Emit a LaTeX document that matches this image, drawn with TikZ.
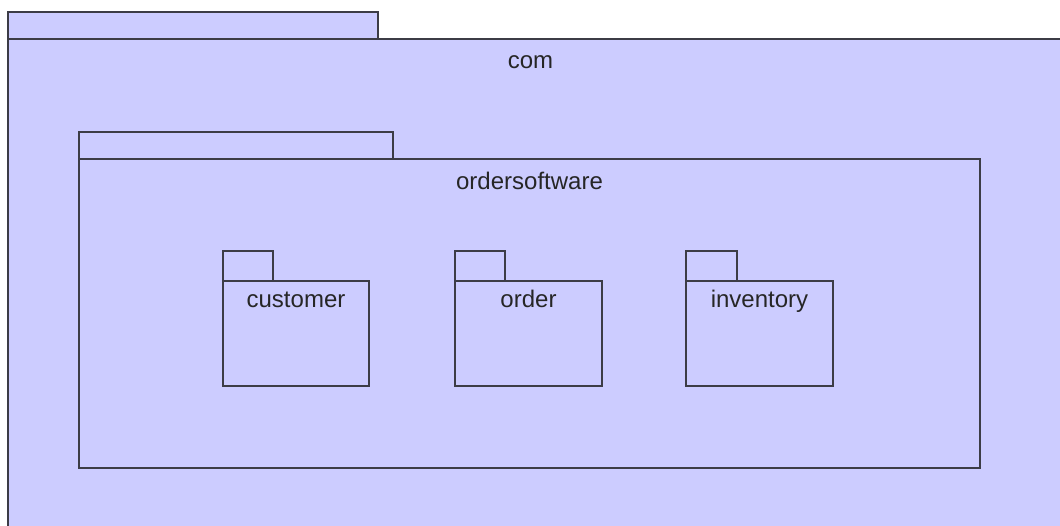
\documentclass[tikz,border=0pt]{standalone}
\usepackage{fontspec}
\setmainfont{Liberation Sans}
\definecolor{pkgfill}{HTML}{CCCCFF}
\definecolor{pkgline}{HTML}{3C3C46}
\tikzset{
  pkgpart/.style={draw=pkgline, fill=pkgfill, line width=1.7pt, inner sep=0pt, outer sep=0pt, anchor=north west},
  pkgname/.style={anchor=base, inner sep=0pt, font=\fontsize{24}{28}\selectfont, text=black!85}
}
\begin{document}
\begin{tikzpicture}[x=1pt,y=-1pt]
  \useasboundingbox (0,0) rectangle (1060,526);
  \fill[white] (0,0) rectangle (1060,526);
  \clip (0,0) rectangle (1060,526);

  % outer package: com
  \node[pkgpart, minimum width=370pt, minimum height=27pt] (comtab) at (8,12) {};
  \node[pkgpart, minimum width=1070pt, minimum height=510pt] (combody) at (8,39) {};
  \node[pkgname] (comlabel) at (530.5,69) {com};

  % nested package: ordersoftware
  \node[pkgpart, minimum width=314pt, minimum height=27pt] (ostab) at (79,132) {};
  \node[pkgpart, minimum width=901pt, minimum height=309pt] (osbody) at (79,159) {};
  \node[pkgname] (oslabel) at (osbody.north |- 0,190) {ordersoftware};

  % leaf packages
  \node[pkgpart, minimum width=50pt, minimum height=30pt] (custtab) at (223,251) {};
  \node[pkgpart, minimum width=146pt, minimum height=105pt] (custbody) at (223,281) {};
  \node[pkgname] (custlabel) at (custbody.north |- 0,308) {customer};

  \node[pkgpart, minimum width=50pt, minimum height=30pt] (ordtab) at (455,251) {};
  \node[pkgpart, minimum width=147pt, minimum height=105pt] (ordbody) at (455,281) {};
  \node[pkgname] (ordlabel) at (ordbody.north |- 0,308) {order};

  \node[pkgpart, minimum width=51pt, minimum height=30pt] (invtab) at (686,251) {};
  \node[pkgpart, minimum width=147pt, minimum height=105pt] (invbody) at (686,281) {};
  \node[pkgname] (invlabel) at (invbody.north |- 0,308) {inventory};
\end{tikzpicture}
\end{document}
